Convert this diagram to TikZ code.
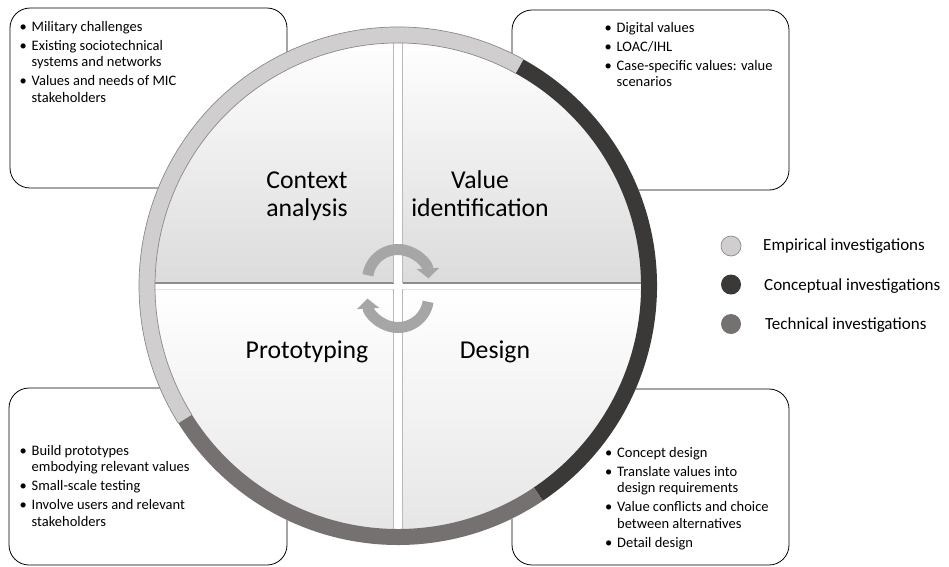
\documentclass[tikz,border=0pt]{standalone}
\usepackage{fontspec}
\setmainfont{Carlito}
\usetikzlibrary{arrows.meta}
\definecolor{lightring}{HTML}{D0CECE}
\definecolor{darkring}{HTML}{3B3838}
\definecolor{medring}{HTML}{767171}
\definecolor{ringedge}{HTML}{8A8A8A}
\definecolor{arrowgray}{HTML}{A6A6A6}
\newlength\bind
\newcommand\bl{\makebox[\bind][l]{\textbullet}}
\newcommand\ct{\hspace*{\bind}}
\begin{document}
\begin{tikzpicture}[x=1pt,y=1pt,
  box/.style={draw=black, line width=0.8pt, rounded corners=20pt, fill=white, inner sep=0pt},
  bullets/.style={anchor=base west, inner sep=0pt, font=\fontsize{14.5}{16.3}\selectfont},
  big/.style={anchor=base, inner sep=0pt, font=\fontsize{25.7}{28}\selectfont},
  legtext/.style={anchor=west, inner sep=0pt, font=\fontsize{17}{20}\selectfont},
  legdot/.style={circle, minimum size=20pt, inner sep=0pt},
  cyc/.style={arrowgray, line width=11pt, -{Triangle[length=10pt, width=22pt]}}]
\useasboundingbox (0,0) rectangle (949,-566);
% boxes
\node[box, minimum width=277pt, minimum height=180pt] (tlbox) at (148.5,-98) {};
\node[box, minimum width=277pt, minimum height=180pt] (trbox) at (650.5,-100) {};
\node[box, minimum width=278pt, minimum height=177pt] (blbox) at (148,-476.5) {};
\node[box, minimum width=277pt, minimum height=176pt] (brbox) at (650.5,-477) {};
% circle
\coordinate (C) at (398,-286);
\fill[white] (C) circle[radius=259pt];
\begin{scope}
  \clip (C) circle[radius=243.5pt];
  \shade[top color=white, bottom color=black!14] (150,-40) rectangle (393.5,-283);
  \shade[top color=white, bottom color=black!14] (402.5,-40) rectangle (650,-283);
  \shade[top color=white, bottom color=black!10] (150,-289) rectangle (393.5,-535);
  \shade[top color=white, bottom color=black!10] (402.5,-289) rectangle (650,-535);
  \draw[black!45, line width=1.6pt] (150,-283) -- (393.5,-283);
  \draw[black!45, line width=1.6pt] (402.5,-283) -- (650,-283);
  \draw[black!10, line width=1pt] (150,-289.5) -- (393.5,-289.5);
  \draw[black!10, line width=1pt] (402.5,-289.5) -- (650,-289.5);
  \draw[black!28, line width=0.8pt] (393.5,-40) -- (393.5,-283) (393.5,-289) -- (393.5,-535);
  \draw[black!28, line width=0.8pt] (402.5,-40) -- (402.5,-283) (402.5,-289) -- (402.5,-535);
\end{scope}
\begin{scope}[shift={(398,-286)}]
  \fill[lightring] (61:259pt) arc[start angle=61, end angle=212, radius=259pt] -- (212:243pt) arc[start angle=212, end angle=61, radius=243pt] -- cycle;
  \fill[darkring] (-56:259pt) arc[start angle=-56, end angle=61, radius=259pt] -- (61:243pt) arc[start angle=61, end angle=-56, radius=243pt] -- cycle;
  \fill[medring] (-148:259pt) arc[start angle=-148, end angle=-56, radius=259pt] -- (-56:243pt) arc[start angle=-56, end angle=-148, radius=243pt] -- cycle;
  \draw[ringedge, line width=0.7pt] (61:259pt) arc[start angle=61, end angle=212, radius=259pt];
  \draw[ringedge, line width=0.7pt] (61:243pt) arc[start angle=61, end angle=212, radius=243pt];
\end{scope}
% cycle arrows
\coordinate (U) at (398,-280);
\coordinate (L) at (398,-297);
\draw[cyc] ([shift={(171:30.5pt)}]U) arc[start angle=171, end angle=3, radius=30.5pt];
\draw[cyc] ([shift={(-9:30.5pt)}]L) arc[start angle=-9, end angle=-177, radius=30.5pt];
% big labels
\node[big] (ctx) at (307,-188) {\begin{tabular}[t]{@{}c@{}}Context\\analysis\end{tabular}};
\node[big] (val) at (480,-188) {\begin{tabular}[t]{@{}c@{}}Value\\identification\end{tabular}};
\node[big] (pro) at (307,-358) {Prototyping};
\node[big] (des) at (495,-358) {Design};
% bullet texts
\setlength\bind{12pt}
\node[bullets] (tltext) at (19.5,-31) {\begin{tabular}[t]{@{}l@{}}\bl Military challenges\\[3pt]\bl Existing sociotechnical\\\ct systems and networks\\[3pt]\bl Values and needs of MIC\\\ct stakeholders\end{tabular}};
\node[bullets] (trtext) at (604.5,-32) {\begin{tabular}[t]{@{}l@{}}\bl Digital values\\[3pt]\bl LOAC/IHL\\[3pt]\bl Case-specific values: value\\\ct scenarios\end{tabular}};
\node[bullets] (bltext) at (19.5,-455) {\begin{tabular}[t]{@{}l@{}}\bl Build prototypes\\\ct embodying relevant values\\[3pt]\bl Small-scale testing\\[3pt]\bl Involve users and relevant\\\ct stakeholders\end{tabular}};
\node[bullets] (brtext) at (605,-457) {\begin{tabular}[t]{@{}l@{}}\bl Concept design\\[3pt]\bl Translate values into\\\ct design requirements\\[3pt]\bl Value conflicts and choice\\\ct between alternatives\\[3pt]\bl Detail design\end{tabular}};
% legend
\node[legdot, fill=lightring, draw=ringedge, line width=0.7pt] (emp) at (731,-246) {};
\node[legdot, fill=darkring] (con) at (731,-284.5) {};
\node[legdot, fill=medring] (tec) at (731,-324) {};
\node[legtext] (empt) at (763,-246) {Empirical investigations};
\node[legtext] (cont) at (764,-286) {Conceptual investigations};
\node[legtext] (tect) at (765,-325) {Technical investigations};
\end{tikzpicture}
\end{document}
